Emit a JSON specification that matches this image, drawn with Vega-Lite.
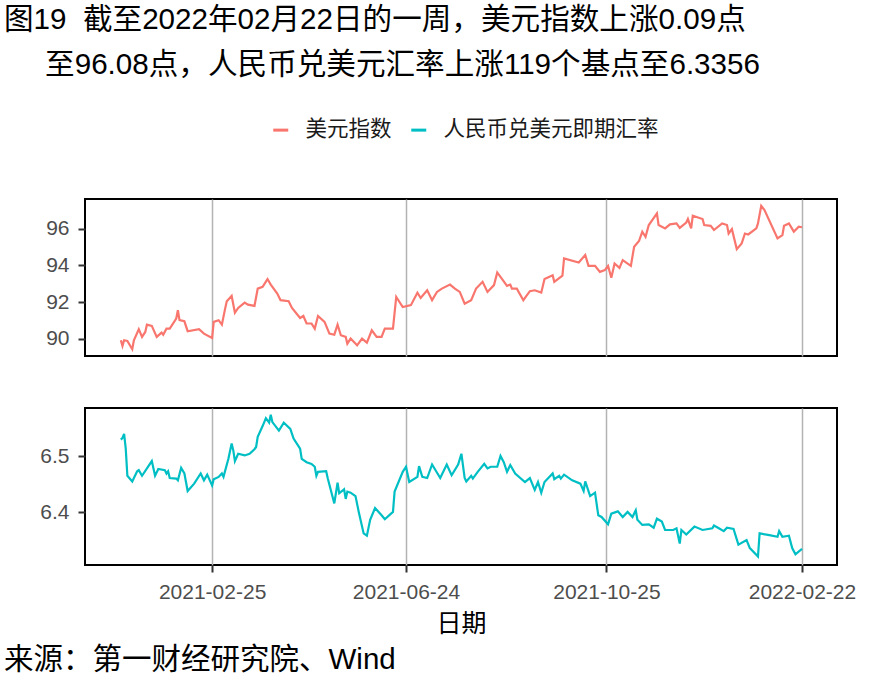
{
  "$schema": "https://vega.github.io/schema/vega-lite/v6.json",
  "background": "white",
  "padding": {"left": 3, "top": 5, "right": 5, "bottom": 5},
  "title": {
    "text": ["图19\u00a0\u00a0截至2022年02月22日的一周，美元指数上涨0.09点", "\u200b\u00a0\u00a0\u00a0\u00a0\u00a0至96.08点，人民币兑美元汇率上涨119个基点至6.3356"],
    "anchor": "start",
    "frame": "group",
    "dx": -81,
    "fontSize": 29.6,
    "font": "Liberation Sans, Noto Sans CJK SC",
    "fontWeight": "normal",
    "color": "black",
    "lineHeight": 45,
    "offset": 38
  },
  "datasets": {
    "usd": [
      {"d":"2020-12-31","v":89.93},{"d":"2021-01-01","v":89.62},{"d":"2021-01-02","v":89.93},{"d":"2021-01-04","v":89.89},
      {"d":"2021-01-07","v":89.44},{"d":"2021-01-08","v":89.93},{"d":"2021-01-11","v":90.53},{"d":"2021-01-13","v":90.11},
      {"d":"2021-01-15","v":90.38},{"d":"2021-01-16","v":90.78},{"d":"2021-01-19","v":90.71},{"d":"2021-01-22","v":90.11},
      {"d":"2021-01-25","v":90.34},{"d":"2021-01-26","v":90.23},{"d":"2021-01-28","v":90.56},{"d":"2021-01-30","v":90.56},
      {"d":"2021-02-03","v":91.11},{"d":"2021-02-04","v":91.56},{"d":"2021-02-05","v":91.02},{"d":"2021-02-08","v":90.96},
      {"d":"2021-02-10","v":90.42},{"d":"2021-02-17","v":90.53},{"d":"2021-02-20","v":90.29},{"d":"2021-02-25","v":90.05},
      {"d":"2021-02-26","v":90.93},{"d":"2021-03-01","v":91.02},{"d":"2021-03-03","v":90.78},{"d":"2021-03-05","v":91.65},
      {"d":"2021-03-06","v":92.05},{"d":"2021-03-09","v":92.34},{"d":"2021-03-11","v":91.43},{"d":"2021-03-13","v":91.69},
      {"d":"2021-03-17","v":91.98},{"d":"2021-03-19","v":91.87},{"d":"2021-03-23","v":91.80},{"d":"2021-03-25","v":92.74},
      {"d":"2021-03-28","v":92.84},{"d":"2021-03-31","v":93.26},{"d":"2021-04-02","v":92.96},{"d":"2021-04-06","v":92.47},
      {"d":"2021-04-08","v":92.11},{"d":"2021-04-13","v":92.05},{"d":"2021-04-15","v":91.69},{"d":"2021-04-20","v":91.14},
      {"d":"2021-04-22","v":91.25},{"d":"2021-04-24","v":90.84},{"d":"2021-04-27","v":90.84},{"d":"2021-04-29","v":90.56},
      {"d":"2021-05-01","v":91.25},{"d":"2021-05-05","v":90.93},{"d":"2021-05-08","v":90.29},{"d":"2021-05-11","v":90.23},
      {"d":"2021-05-13","v":90.78},{"d":"2021-05-15","v":90.20},{"d":"2021-05-18","v":90.11},{"d":"2021-05-19","v":89.74},
      {"d":"2021-05-21","v":90.02},{"d":"2021-05-25","v":89.65},{"d":"2021-05-28","v":90.02},{"d":"2021-05-31","v":89.80},
      {"d":"2021-06-03","v":90.47},{"d":"2021-06-06","v":90.11},{"d":"2021-06-09","v":90.11},{"d":"2021-06-11","v":90.56},
      {"d":"2021-06-16","v":90.56},{"d":"2021-06-18","v":92.29},{"d":"2021-06-22","v":91.74},{"d":"2021-06-27","v":91.84},
      {"d":"2021-07-01","v":92.52},{"d":"2021-07-03","v":92.23},{"d":"2021-07-07","v":92.65},{"d":"2021-07-10","v":92.11},
      {"d":"2021-07-13","v":92.56},{"d":"2021-07-16","v":92.74},{"d":"2021-07-21","v":92.96},{"d":"2021-07-24","v":92.74},
      {"d":"2021-07-27","v":92.56},{"d":"2021-07-30","v":91.92},{"d":"2021-08-03","v":92.11},{"d":"2021-08-06","v":92.74},
      {"d":"2021-08-10","v":93.11},{"d":"2021-08-13","v":92.56},{"d":"2021-08-17","v":92.93},{"d":"2021-08-19","v":93.62},
      {"d":"2021-08-25","v":92.89},{"d":"2021-08-27","v":92.96},{"d":"2021-08-28","v":92.74},{"d":"2021-08-31","v":92.74},
      {"d":"2021-09-04","v":92.11},{"d":"2021-09-08","v":92.60},{"d":"2021-09-11","v":92.65},{"d":"2021-09-15","v":92.52},
      {"d":"2021-09-17","v":93.26},{"d":"2021-09-22","v":93.47},{"d":"2021-09-23","v":93.11},{"d":"2021-09-28","v":93.44},
      {"d":"2021-09-29","v":94.38},{"d":"2021-10-08","v":94.16},{"d":"2021-10-12","v":94.57},{"d":"2021-10-14","v":93.98},
      {"d":"2021-10-18","v":93.98},{"d":"2021-10-21","v":93.65},{"d":"2021-10-24","v":93.75},{"d":"2021-10-26","v":93.98},
      {"d":"2021-10-28","v":93.33},{"d":"2021-10-30","v":94.11},{"d":"2021-11-02","v":93.87},{"d":"2021-11-04","v":94.29},
      {"d":"2021-11-09","v":93.98},{"d":"2021-11-11","v":95.02},{"d":"2021-11-14","v":95.33},{"d":"2021-11-16","v":95.84},
      {"d":"2021-11-18","v":95.56},{"d":"2021-11-20","v":96.20},{"d":"2021-11-25","v":96.84},{"d":"2021-11-26","v":96.20},
      {"d":"2021-11-30","v":96.02},{"d":"2021-12-03","v":96.24},{"d":"2021-12-07","v":96.29},{"d":"2021-12-09","v":96.05},
      {"d":"2021-12-13","v":96.34},{"d":"2021-12-14","v":96.53},{"d":"2021-12-16","v":96.02},{"d":"2021-12-17","v":96.71},
      {"d":"2021-12-23","v":96.53},{"d":"2021-12-24","v":96.20},{"d":"2021-12-28","v":96.16},{"d":"2021-12-30","v":95.93},
      {"d":"2022-01-04","v":96.29},{"d":"2022-01-07","v":96.20},{"d":"2022-01-08","v":95.74},{"d":"2022-01-10","v":95.98},
      {"d":"2022-01-13","v":94.89},{"d":"2022-01-16","v":95.20},{"d":"2022-01-18","v":95.74},{"d":"2022-01-20","v":95.69},
      {"d":"2022-01-25","v":96.02},{"d":"2022-01-26","v":96.29},{"d":"2022-01-28","v":97.25},{"d":"2022-01-30","v":97.02},
      {"d":"2022-02-07","v":95.47},{"d":"2022-02-10","v":95.65},{"d":"2022-02-11","v":96.16},{"d":"2022-02-14","v":96.29},
      {"d":"2022-02-17","v":95.84},{"d":"2022-02-20","v":96.11},{"d":"2022-02-22","v":96.08}
    ],
    "cny": [
      {"d":"2020-12-31","v":6.529},{"d":"2021-01-01","v":6.532},{"d":"2021-01-02","v":6.539},{"d":"2021-01-03","v":6.513},
      {"d":"2021-01-04","v":6.465},{"d":"2021-01-07","v":6.455},{"d":"2021-01-10","v":6.473},{"d":"2021-01-11","v":6.475},
      {"d":"2021-01-13","v":6.465},{"d":"2021-01-19","v":6.491},{"d":"2021-01-21","v":6.465},{"d":"2021-01-23","v":6.477},
      {"d":"2021-01-27","v":6.475},{"d":"2021-01-28","v":6.469},{"d":"2021-01-29","v":6.473},{"d":"2021-01-30","v":6.461},
      {"d":"2021-02-03","v":6.460},{"d":"2021-02-04","v":6.457},{"d":"2021-02-06","v":6.479},{"d":"2021-02-08","v":6.469},
      {"d":"2021-02-10","v":6.438},{"d":"2021-02-14","v":6.451},{"d":"2021-02-18","v":6.469},{"d":"2021-02-20","v":6.457},
      {"d":"2021-02-22","v":6.467},{"d":"2021-02-25","v":6.448},{"d":"2021-02-26","v":6.459},{"d":"2021-03-01","v":6.463},
      {"d":"2021-03-03","v":6.469},{"d":"2021-03-04","v":6.463},{"d":"2021-03-07","v":6.495},{"d":"2021-03-09","v":6.522},
      {"d":"2021-03-10","v":6.510},{"d":"2021-03-11","v":6.491},{"d":"2021-03-13","v":6.504},{"d":"2021-03-17","v":6.501},
      {"d":"2021-03-20","v":6.504},{"d":"2021-03-23","v":6.512},{"d":"2021-03-24","v":6.516},{"d":"2021-03-25","v":6.534},
      {"d":"2021-03-28","v":6.553},{"d":"2021-03-30","v":6.567},{"d":"2021-04-01","v":6.559},{"d":"2021-04-02","v":6.573},
      {"d":"2021-04-03","v":6.560},{"d":"2021-04-07","v":6.545},{"d":"2021-04-10","v":6.559},{"d":"2021-04-14","v":6.548},
      {"d":"2021-04-16","v":6.531},{"d":"2021-04-20","v":6.513},{"d":"2021-04-21","v":6.495},{"d":"2021-04-24","v":6.489},
      {"d":"2021-04-27","v":6.486},{"d":"2021-04-29","v":6.481},{"d":"2021-04-30","v":6.465},{"d":"2021-05-01","v":6.472},
      {"d":"2021-05-06","v":6.473},{"d":"2021-05-07","v":6.460},{"d":"2021-05-11","v":6.416},{"d":"2021-05-13","v":6.453},
      {"d":"2021-05-14","v":6.434},{"d":"2021-05-17","v":6.441},{"d":"2021-05-18","v":6.424},{"d":"2021-05-19","v":6.437},
      {"d":"2021-05-21","v":6.435},{"d":"2021-05-24","v":6.429},{"d":"2021-05-26","v":6.401},{"d":"2021-05-29","v":6.363},
      {"d":"2021-05-31","v":6.359},{"d":"2021-06-02","v":6.387},{"d":"2021-06-05","v":6.408},{"d":"2021-06-09","v":6.395},
      {"d":"2021-06-11","v":6.388},{"d":"2021-06-16","v":6.401},{"d":"2021-06-17","v":6.437},{"d":"2021-06-22","v":6.472},
      {"d":"2021-06-24","v":6.481},{"d":"2021-06-26","v":6.454},{"d":"2021-07-01","v":6.463},{"d":"2021-07-02","v":6.482},
      {"d":"2021-07-04","v":6.463},{"d":"2021-07-07","v":6.461},{"d":"2021-07-10","v":6.485},{"d":"2021-07-15","v":6.461},
      {"d":"2021-07-19","v":6.485},{"d":"2021-07-22","v":6.466},{"d":"2021-07-26","v":6.485},{"d":"2021-07-28","v":6.504},
      {"d":"2021-07-30","v":6.461},{"d":"2021-07-31","v":6.455},{"d":"2021-08-03","v":6.465},{"d":"2021-08-04","v":6.460},
      {"d":"2021-08-07","v":6.472},{"d":"2021-08-11","v":6.486},{"d":"2021-08-13","v":6.478},{"d":"2021-08-15","v":6.481},
      {"d":"2021-08-19","v":6.481},{"d":"2021-08-21","v":6.500},{"d":"2021-08-23","v":6.489},{"d":"2021-08-25","v":6.472},
      {"d":"2021-08-27","v":6.484},{"d":"2021-08-30","v":6.469},{"d":"2021-09-05","v":6.454},{"d":"2021-09-08","v":6.461},
      {"d":"2021-09-11","v":6.440},{"d":"2021-09-13","v":6.454},{"d":"2021-09-15","v":6.435},{"d":"2021-09-17","v":6.454},
      {"d":"2021-09-22","v":6.469},{"d":"2021-09-23","v":6.459},{"d":"2021-09-26","v":6.465},{"d":"2021-09-27","v":6.460},
      {"d":"2021-09-29","v":6.467},{"d":"2021-10-04","v":6.457},{"d":"2021-10-09","v":6.451},{"d":"2021-10-11","v":6.438},
      {"d":"2021-10-12","v":6.455},{"d":"2021-10-15","v":6.429},{"d":"2021-10-18","v":6.435},{"d":"2021-10-20","v":6.395},
      {"d":"2021-10-22","v":6.392},{"d":"2021-10-26","v":6.379},{"d":"2021-10-28","v":6.398},{"d":"2021-11-01","v":6.402},
      {"d":"2021-11-04","v":6.392},{"d":"2021-11-07","v":6.401},{"d":"2021-11-10","v":6.392},{"d":"2021-11-12","v":6.404},
      {"d":"2021-11-13","v":6.387},{"d":"2021-11-16","v":6.378},{"d":"2021-11-20","v":6.379},{"d":"2021-11-23","v":6.373},
      {"d":"2021-11-25","v":6.389},{"d":"2021-11-28","v":6.384},{"d":"2021-11-30","v":6.369},{"d":"2021-12-05","v":6.369},
      {"d":"2021-12-07","v":6.372},{"d":"2021-12-09","v":6.345},{"d":"2021-12-10","v":6.369},{"d":"2021-12-13","v":6.361},
      {"d":"2021-12-18","v":6.375},{"d":"2021-12-23","v":6.369},{"d":"2021-12-29","v":6.372},{"d":"2021-12-30","v":6.377},
      {"d":"2022-01-02","v":6.372},{"d":"2022-01-05","v":6.367},{"d":"2022-01-07","v":6.373},{"d":"2022-01-11","v":6.371},
      {"d":"2022-01-14","v":6.343},{"d":"2022-01-19","v":6.351},{"d":"2022-01-21","v":6.337},{"d":"2022-01-26","v":6.322},
      {"d":"2022-01-27","v":6.363},{"d":"2022-02-02","v":6.360},{"d":"2022-02-07","v":6.357},{"d":"2022-02-08","v":6.367},
      {"d":"2022-02-10","v":6.357},{"d":"2022-02-14","v":6.359},{"d":"2022-02-16","v":6.337},{"d":"2022-02-18","v":6.326},
      {"d":"2022-02-22","v":6.3356}
    ]
  },
  "bounds": "flush",
  "spacing": 52,
  "resolve": {"scale": {"color": "shared"}, "legend": {"color": "shared"}},
  "vconcat": [
    {
      "width": 752,
      "height": 157,
      "data": {"name": "usd"},
      "mark": {"type": "line", "strokeWidth": 2.2},
      "encoding": {
        "x": {
          "field": "d", "type": "temporal",
          "scale": {"type": "utc", "domain": [{"year": 2020, "month": 12, "date": 9, "utc": true}, {"year": 2022, "month": 3, "date": 15, "hours": 12, "utc": true}]},
          "axis": {
            "values": [{"year": 2021, "month": 2, "date": 25, "utc": true}, {"year": 2021, "month": 6, "date": 24, "utc": true}, {"year": 2021, "month": 10, "date": 25, "utc": true}, {"year": 2022, "month": 2, "date": 22, "utc": true}],
            "labels": false, "ticks": false, "domain": false, "title": null, "grid": true
          }
        },
        "y": {
          "field": "v", "type": "quantitative",
          "scale": {"domain": [89.07, 97.62], "zero": false, "nice": false},
          "axis": {"values": [90, 92, 94, 96], "title": null, "grid": false, "labelPadding": 9, "tickSize": 7}
        },
        "color": {
          "datum": "美元指数",
          "scale": {"domain": ["美元指数", "人民币兑美元即期汇率"], "range": ["#F8766D", "#00BFC4"]},
          "legend": {
            "orient": "none", "legendX": 185, "legendY": -80, "direction": "horizontal", "title": null,
            "symbolType": "stroke", "symbolStrokeWidth": 3, "symbolSize": 225,
            "labelFontSize": 21.5, "labelFont": "Noto Sans CJK SC", "labelColor": "#1A1A1A", "labelLimit": 400,
            "labelOffset": 14, "columnPadding": 13
          }
        }
      }
    },
    {
      "width": 752,
      "height": 157,
      "data": {"name": "cny"},
      "title": {
        "text": "来源：第一财经研究院、Wind",
        "orient": "bottom", "anchor": "start", "frame": "group", "dx": -81,
        "fontSize": 29.5, "font": "Liberation Sans, Noto Sans CJK SC", "fontWeight": "normal", "color": "black", "offset": 10
      },
      "mark": {"type": "line", "strokeWidth": 2.2},
      "encoding": {
        "x": {
          "field": "d", "type": "temporal",
          "scale": {"type": "utc", "domain": [{"year": 2020, "month": 12, "date": 9, "utc": true}, {"year": 2022, "month": 3, "date": 15, "hours": 12, "utc": true}]},
          "axis": {
            "values": [{"year": 2021, "month": 2, "date": 25, "utc": true}, {"year": 2021, "month": 6, "date": 24, "utc": true}, {"year": 2021, "month": 10, "date": 25, "utc": true}, {"year": 2022, "month": 2, "date": 22, "utc": true}],
            "labelExpr": "utcFormat(datum.value, '%Y-%m-%d')",
            "title": "日期", "grid": true, "domain": false, "tickSize": 7,
            "labelPadding": 9, "titlePadding": 9,
            "titleFontSize": 25, "titleFont": "Noto Sans CJK SC", "titleFontWeight": "normal", "titleColor": "black"
          }
        },
        "y": {
          "field": "v", "type": "quantitative",
          "scale": {"domain": [6.307, 6.585], "zero": false, "nice": false},
          "axis": {"values": [6.4, 6.5], "format": ".1f", "title": null, "grid": false, "labelPadding": 9, "tickSize": 7}
        },
        "color": {"datum": "人民币兑美元即期汇率"}
      }
    }
  ],
  "config": {
    "view": {"stroke": "black", "strokeWidth": 2},
    "axis": {
      "labelFont": "Liberation Sans", "labelFontSize": 21, "labelColor": "#4D4D4D",
      "tickColor": "#333333", "tickWidth": 2, "tickSize": 6,
      "gridColor": "#B3B3B3", "gridWidth": 1.5, "domain": false, "labelPadding": 4
    }
  }
}
